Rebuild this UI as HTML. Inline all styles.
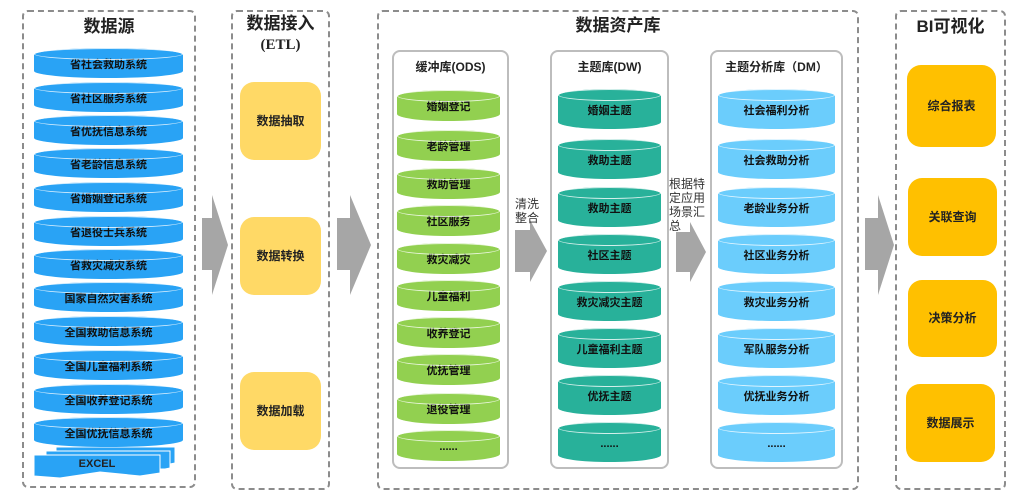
<!DOCTYPE html>
<html><head><meta charset="utf-8"><style>
body{margin:0;width:1028px;height:497px;background:#fff;position:relative;overflow:hidden;font-family:"Liberation Sans","Noto Sans CJK SC",sans-serif;}
.p{position:absolute;border:2px dashed #8c8c8c;border-radius:6px;box-sizing:border-box;}
.s{position:absolute;border:2px solid #bdbdbd;border-radius:8px;box-sizing:border-box;}
.t{position:absolute;text-align:center;font-weight:bold;color:#222;}
.c{position:absolute;box-sizing:border-box;border-radius:50%/7px;text-align:center;font-weight:bold;font-size:11px;color:#111;}
.c::before{content:"";position:absolute;left:0;right:0;top:0;height:12px;border-radius:50%;border:1px solid rgba(255,255,255,.8);box-sizing:border-box;}
.b{background:#29a3f5}.g{background:#92d050}.tl{background:#28b19a}.lb{background:#6bcdfc}
.y{position:absolute;background:#ffd966;border-radius:14px;text-align:center;font-weight:bold;font-size:12px;color:#222;}
.o{position:absolute;background:#ffc000;border-radius:14px;text-align:center;font-weight:bold;font-size:12px;color:#222;}
.n{position:absolute;font-size:12px;color:#333;line-height:14px;}
</style></head><body>
<svg width="1028" height="497" style="position:absolute;left:0;top:0">
<g fill="#a6a6a6">
<polygon points="202,218 212,218 212,195 228,245 212,295 212,270 202,270"/>
<polygon points="337,218 350,218 350,195 371,245 350,295 350,270 337,270"/>
<polygon points="515,230 530,230 530,220 547,251 530,282 530,272 515,272"/>
<polygon points="676,232 690,232 690,222 706,252 690,282 690,272 676,272"/>
<polygon points="865,218 878,218 878,195 894,245 878,295 878,270 865,270"/>
</g>
<g fill="#29a3f5" stroke="#fff" stroke-width="1">
<polygon points="56,447 175,447 175,463 170,464 56,464"/>
<polygon points="46,451 170,451 170,468 165,469 46,469"/>
<polygon points="34,455 160,455 160,473 140,476 100,472 60,478 34,476"/>
</g>
</svg>
<div class="p" style="left:22px;top:10px;width:174px;height:478px"></div>
<div class="t" style="left:22px;top:12px;width:174px;font-size:17px">数据源</div>
<div class="c b" style="left:34px;top:48px;width:149px;height:30px;line-height:34px">省社会救助系统</div>
<div class="c b" style="left:34px;top:82px;width:149px;height:30px;line-height:34px">省社区服务系统</div>
<div class="c b" style="left:34px;top:115px;width:149px;height:30px;line-height:34px">省优抚信息系统</div>
<div class="c b" style="left:34px;top:148px;width:149px;height:30px;line-height:34px">省老龄信息系统</div>
<div class="c b" style="left:34px;top:182px;width:149px;height:30px;line-height:34px">省婚姻登记系统</div>
<div class="c b" style="left:34px;top:216px;width:149px;height:30px;line-height:34px">省退役士兵系统</div>
<div class="c b" style="left:34px;top:249px;width:149px;height:30px;line-height:34px">省救灾减灾系统</div>
<div class="c b" style="left:34px;top:282px;width:149px;height:30px;line-height:34px">国家自然灾害系统</div>
<div class="c b" style="left:34px;top:316px;width:149px;height:30px;line-height:34px">全国救助信息系统</div>
<div class="c b" style="left:34px;top:350px;width:149px;height:30px;line-height:34px">全国儿童福利系统</div>
<div class="c b" style="left:34px;top:384px;width:149px;height:30px;line-height:34px">全国收养登记系统</div>
<div class="c b" style="left:34px;top:417px;width:149px;height:30px;line-height:34px">全国优抚信息系统</div>
<div class="t" style="left:34px;top:458px;width:126px;font-size:11px">EXCEL</div>

<div class="p" style="left:231px;top:10px;width:99px;height:480px"></div>
<div class="t" style="left:231px;top:13px;width:99px;font-size:17px;line-height:22px">数据接入</div>
<div class="t" style="left:231px;top:36px;width:99px;font-size:15px;line-height:18px;font-family:'Liberation Serif',serif">(ETL)</div>
<div class="y" style="left:240px;top:82px;width:81px;height:78px;line-height:78px">数据抽取</div>
<div class="y" style="left:240px;top:217px;width:81px;height:78px;line-height:78px">数据转换</div>
<div class="y" style="left:240px;top:372px;width:81px;height:78px;line-height:78px">数据加载</div>

<div class="p" style="left:377px;top:10px;width:482px;height:480px"></div>
<div class="t" style="left:377px;top:11px;width:482px;font-size:17px">数据资产库</div>

<div class="s" style="left:392px;top:50px;width:117px;height:419px"></div>
<div class="t" style="left:392px;top:58px;width:117px;font-size:12px">缓冲库(ODS)</div>
<div class="c g" style="left:397px;top:90px;width:103px;height:31px;line-height:34px">婚姻登记</div>
<div class="c g" style="left:397px;top:130px;width:103px;height:31px;line-height:34px">老龄管理</div>
<div class="c g" style="left:397px;top:168px;width:103px;height:31px;line-height:34px">救助管理</div>
<div class="c g" style="left:397px;top:205px;width:103px;height:31px;line-height:34px">社区服务</div>
<div class="c g" style="left:397px;top:243px;width:103px;height:31px;line-height:34px">救灾减灾</div>
<div class="c g" style="left:397px;top:280px;width:103px;height:31px;line-height:34px">儿童福利</div>
<div class="c g" style="left:397px;top:317px;width:103px;height:31px;line-height:34px">收养登记</div>
<div class="c g" style="left:397px;top:354px;width:103px;height:31px;line-height:34px">优抚管理</div>
<div class="c g" style="left:397px;top:393px;width:103px;height:31px;line-height:34px">退役管理</div>
<div class="c g" style="left:397px;top:430px;width:103px;height:31px;line-height:34px">......</div>
<div class="n" style="left:515px;top:197px">清洗<br>整合</div>

<div class="s" style="left:550px;top:50px;width:119px;height:419px"></div>
<div class="t" style="left:550px;top:58px;width:119px;font-size:12px">主题库(DW)</div>
<div class="c tl" style="left:558px;top:89px;width:103px;height:40px;line-height:44px">婚姻主题</div>
<div class="c tl" style="left:558px;top:139px;width:103px;height:40px;line-height:44px">救助主题</div>
<div class="c tl" style="left:558px;top:187px;width:103px;height:40px;line-height:44px">救助主题</div>
<div class="c tl" style="left:558px;top:234px;width:103px;height:40px;line-height:44px">社区主题</div>
<div class="c tl" style="left:558px;top:281px;width:103px;height:40px;line-height:44px">救灾减灾主题</div>
<div class="c tl" style="left:558px;top:328px;width:103px;height:40px;line-height:44px">儿童福利主题</div>
<div class="c tl" style="left:558px;top:375px;width:103px;height:40px;line-height:44px">优抚主题</div>
<div class="c tl" style="left:558px;top:422px;width:103px;height:40px;line-height:44px">......</div>
<div class="n" style="left:669px;top:177px;width:36px">根据特定应用场景汇总</div>

<div class="s" style="left:710px;top:50px;width:133px;height:419px"></div>
<div class="t" style="left:710px;top:58px;width:133px;font-size:12px">主题分析库（DM）</div>
<div class="c lb" style="left:718px;top:89px;width:117px;height:40px;line-height:44px">社会福利分析</div>
<div class="c lb" style="left:718px;top:139px;width:117px;height:40px;line-height:44px">社会救助分析</div>
<div class="c lb" style="left:718px;top:187px;width:117px;height:40px;line-height:44px">老龄业务分析</div>
<div class="c lb" style="left:718px;top:234px;width:117px;height:40px;line-height:44px">社区业务分析</div>
<div class="c lb" style="left:718px;top:281px;width:117px;height:40px;line-height:44px">救灾业务分析</div>
<div class="c lb" style="left:718px;top:328px;width:117px;height:40px;line-height:44px">军队服务分析</div>
<div class="c lb" style="left:718px;top:375px;width:117px;height:40px;line-height:44px">优抚业务分析</div>
<div class="c lb" style="left:718px;top:422px;width:117px;height:40px;line-height:44px">......</div>

<div class="p" style="left:895px;top:10px;width:111px;height:480px"></div>
<div class="t" style="left:895px;top:12px;width:111px;font-size:17px">BI可视化</div>
<div class="o" style="left:907px;top:65px;width:89px;height:82px;line-height:82px">综合报表</div>
<div class="o" style="left:908px;top:178px;width:89px;height:78px;line-height:78px">关联查询</div>
<div class="o" style="left:908px;top:280px;width:89px;height:77px;line-height:77px">决策分析</div>
<div class="o" style="left:906px;top:384px;width:89px;height:78px;line-height:78px">数据展示</div>
</body></html>
